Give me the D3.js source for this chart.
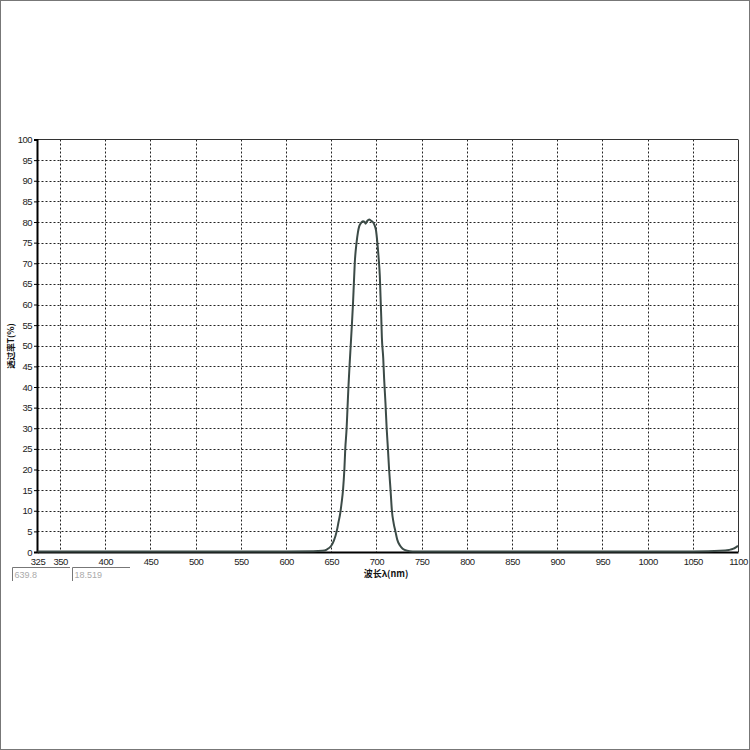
<!DOCTYPE html>
<html><head><meta charset="utf-8">
<script src="https://cdn.jsdelivr.net/npm/d3@7"></script>
<style>body{margin:0;background:#fff}svg{display:block}</style>
</head><body>
<script>
const wavelength = [325,400,500,600,630,640,645,650,653,656,658,660,661.5,663,664.5,665.5,667,668,669,670.2,671.5,672.8,674,675,676,678,679.5,681,683,685,687,688,690,692,694,696,698,699.5,701,702.5,703.7,704.5,705.3,706,707.5,708.5,710,711.3,712.7,714,715.6,717.1,719,721,723,726,729,734,740,800,900,1000,1050,1080,1090,1095,1098,1100];
const transmittance = [0.1,0.1,0.1,0.15,0.2,0.3,0.6,1.5,2.8,5,7.2,9.5,12,15,20,25,30,35,40,45,50,55,60,65,70,75,77.5,79,79.8,80.2,80.0,79.6,80.3,80.6,80.3,80.0,79.2,78,75,71,67,62,57,52,47,42,36,30,25,20,15,10,7,5,3,1.6,0.8,0.3,0.15,0.1,0.1,0.1,0.15,0.3,0.5,0.8,1.2,1.5];
const xTickLabels = [325,350,400,450,500,550,600,650,700,750,800,850,900,950,1000,1050,1100];
const xGridValues = [350,400,450,500,550,600,650,700,750,800,850,900,950,1000,1050];
const yTickLabels = [0,5,10,15,20,25,30,35,40,45,50,55,60,65,70,75,80,85,90,95,100];
const yTitle = "透过率T(%)";
const xTitle = "波长λ(nm)";
const readouts = ["639.8","18.519"];

const W=750,H=750;
const svg=d3.select("body").append("svg").attr("width",W).attr("height",H);
svg.append("rect").attr("x",0.5).attr("y",0.5).attr("width",W-1).attr("height",H-1).attr("fill","#fff").attr("stroke","#777");

const x=d3.scaleLinear().domain([325,1100]).range([37.5,738]);
const y=d3.scaleLinear().domain([0,100]).range([552,139.5]);

// grid
const g=svg.append("g");
g.selectAll(".hg").data(yTickLabels.filter(v=>v>0&&v<100)).join("line")
 .attr("x1",x(325)).attr("x2",x(1100)).attr("y1",d=>Math.round(y(d))+0.5).attr("y2",d=>Math.round(y(d))+0.5)
 .attr("stroke","#222").attr("stroke-dasharray","2,2").attr("stroke-width",1);
g.selectAll(".vg").data(xGridValues).join("line")
 .attr("x1",d=>Math.round(x(d))+0.5).attr("x2",d=>Math.round(x(d))+0.5).attr("y1",y(100)).attr("y2",y(0))
 .attr("stroke","#222").attr("stroke-dasharray","2,2").attr("stroke-width",1);

// border top/right
svg.append("line").attr("x1",x(325)).attr("x2",x(1100)).attr("y1",139.5).attr("y2",139.5).attr("stroke","#333");
svg.append("line").attr("x1",738.5).attr("x2",738.5).attr("y1",139.5).attr("y2",552).attr("stroke","#333");

// axes
const yAxis=d3.axisLeft(y).tickValues(yTickLabels).tickSize(3).tickPadding(2).tickFormat(d3.format("d"));
const ya=svg.append("g").attr("transform","translate(37,0)").call(yAxis);
ya.select(".domain").attr("stroke","#000").attr("stroke-width",2);
ya.selectAll("line").attr("stroke","#000");
ya.selectAll("text").attr("font-family","Arial, Liberation Sans, sans-serif").attr("font-size",9.5).attr("fill","#222").attr("letter-spacing","-0.5");

const xAxis=d3.axisBottom(x).tickValues(xTickLabels).tickSize(0).tickPadding(6).tickFormat(d3.format("d"));
const xa=svg.append("g").attr("transform","translate(0,552)").call(xAxis);
xa.select(".domain").attr("stroke","#000").attr("stroke-width",2);
xa.selectAll("text").attr("font-family","Arial, Liberation Sans, sans-serif").attr("font-size",9.5).attr("fill","#222").attr("letter-spacing","-0.5");

// curve
const line=d3.line().x((d,i)=>x(wavelength[i])).y(d=>y(d)).curve(d3.curveMonotoneX);
svg.append("path").datum(transmittance).attr("d",line).attr("fill","none").attr("stroke","#3c4b47").attr("stroke-width",2);

// titles
svg.append("text").attr("transform","translate(14,346) rotate(-90)").attr("text-anchor","middle")
 .attr("font-family","Noto Sans CJK SC").attr("font-weight","bold").attr("font-size",8.5).attr("fill","#111").text(yTitle);
svg.append("text").attr("x",386).attr("y",577).attr("text-anchor","middle")
 .attr("font-family","Noto Sans CJK SC").attr("font-weight","bold").attr("font-size",9).attr("fill","#111").text(xTitle);

// readout boxes
const boxes=[{x0:12.5,x1:70},{x0:72.5,x1:130}];
boxes.forEach((b,i)=>{
  svg.append("path").attr("d",`M${b.x0},581V567.5H${b.x1}`).attr("fill","none").attr("stroke","#777");
  svg.append("text").attr("x",b.x0+2).attr("y",578).attr("font-family","Arial, Liberation Sans, sans-serif")
   .attr("font-size",9).attr("fill","#aaa").text(readouts[i]);
});
</script>
</body></html>
